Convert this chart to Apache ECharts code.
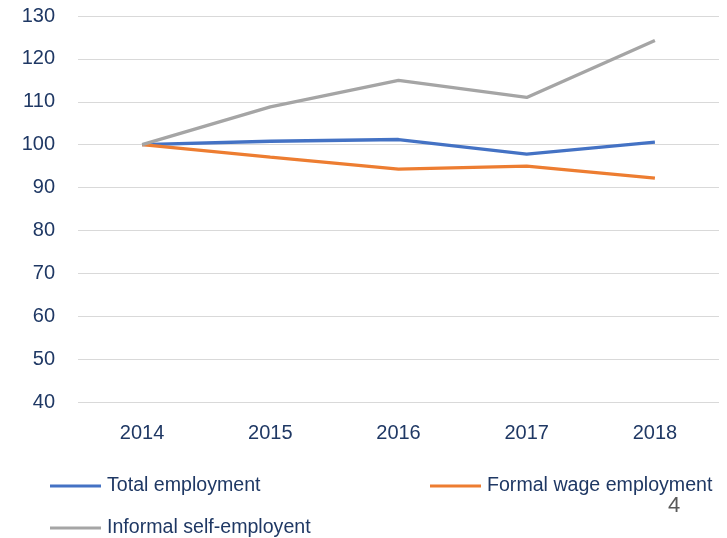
<!DOCTYPE html>
<html><head><meta charset="utf-8">
<script src="https://cdn.jsdelivr.net/npm/echarts@6/dist/echarts.min.js"></script>
<style>html,body{margin:0;padding:0;background:#fff}#c{width:727px;height:538px}</style>
</head><body><div id="c"></div>
<script>
const categories = ['2014', '2015', '2016', '2017', '2018'];
const totalEmployment = [100, 100.8, 101.2, 97.8, 100.6];
const formalWage = [100, 97.1, 94.3, 95.0, 92.2];
const informalSelf = [100, 108.8, 115.0, 111.0, 124.3];
const yTicks = { min: 40, max: 130, interval: 10 };
const pageNumber = '4';

const navy = '#1F3864';
const font = 'Liberation Sans';
const chart = echarts.init(document.getElementById('c'), null, { renderer: 'canvas' });
const legendBase = {
  orient: 'horizontal', padding: 0, itemWidth: 51, itemHeight: 3, itemGap: 10,
  icon: 'rect', textStyle: { color: navy, fontSize: 19.6, fontFamily: font, padding: [0, 0, 0, 1] }
};
chart.setOption({
  animation: false,
  textStyle: { fontFamily: font },
  grid: { left: 78, right: 8, top: 16, bottom: 136, containLabel: false },
  xAxis: {
    type: 'category', data: categories, boundaryGap: true,
    axisLine: { show: false }, axisTick: { show: false },
    axisLabel: { color: navy, fontSize: 20, fontFamily: font, margin: 21 }
  },
  yAxis: {
    type: 'value', min: yTicks.min, max: yTicks.max, interval: yTicks.interval,
    axisLine: { show: false }, axisTick: { show: false },
    axisLabel: { color: navy, fontSize: 20, fontFamily: font, margin: 23 },
    splitLine: { lineStyle: { color: '#D9D9D9', width: 1.2 } }
  },
  legend: [
    Object.assign({}, legendBase, { data: ['Total employment'], left: 50, top: 476 }),
    Object.assign({}, legendBase, { data: ['Formal wage employment'], left: 430, top: 476 }),
    Object.assign({}, legendBase, { data: ['Informal self-employent'], left: 50, top: 518 })
  ],
  series: [
    { name: 'Total employment', type: 'line', data: totalEmployment, symbol: 'none',
      lineStyle: { color: '#4472C4', width: 3.3 }, itemStyle: { color: '#4472C4' } },
    { name: 'Formal wage employment', type: 'line', data: formalWage, symbol: 'none',
      lineStyle: { color: '#ED7D31', width: 3.3 }, itemStyle: { color: '#ED7D31' } },
    { name: 'Informal self-employent', type: 'line', data: informalSelf, symbol: 'none',
      lineStyle: { color: '#A5A5A5', width: 3.3 }, itemStyle: { color: '#A5A5A5' } }
  ],
  graphic: [{
    type: 'text', left: 668, top: 495,
    style: { text: pageNumber, fill: '#595959', fontSize: 22, fontFamily: font }
  }]
});
</script></body></html>
